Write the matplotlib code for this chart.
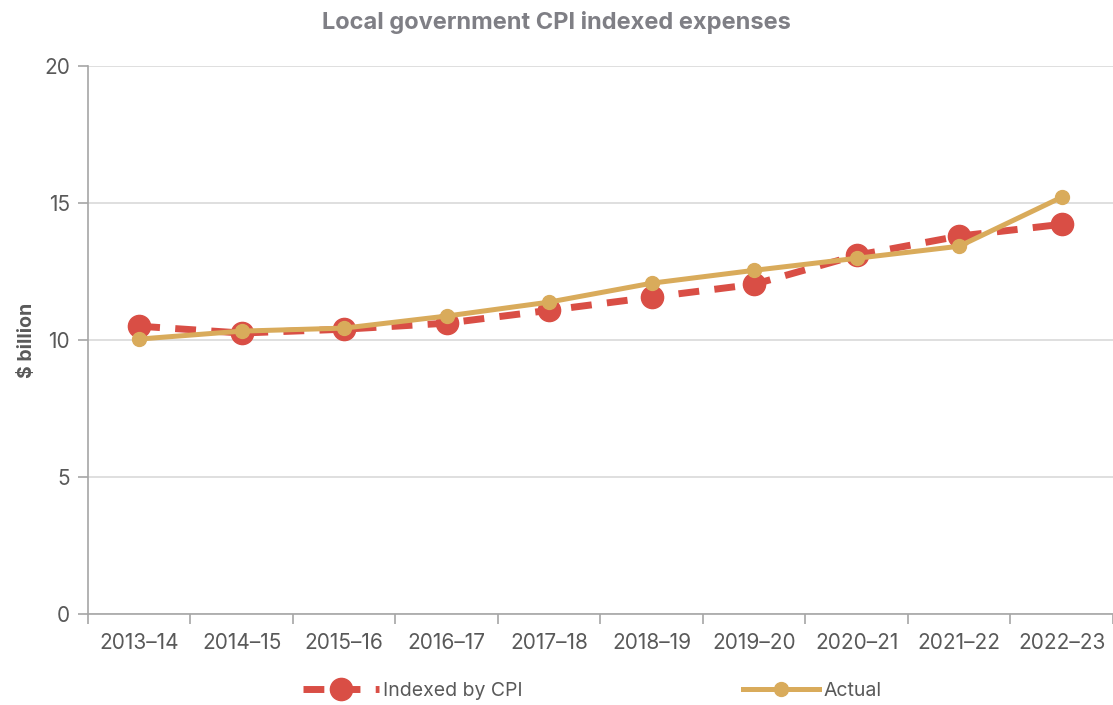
import matplotlib.pyplot as plt

years = ['2013–14', '2014–15', '2015–16', '2016–17', '2017–18',
         '2018–19', '2019–20', '2020–21', '2021–22', '2022–23']
indexed_cpi = [10.51, 10.26, 10.40, 10.62, 11.09, 11.57, 12.04, 13.10, 13.80, 14.23]
actual = [10.04, 10.33, 10.44, 10.88, 11.39, 12.08, 12.55, 12.99, 13.43, 15.22]


def main():
    plt.rcParams['font.family'] = ['Inter', 'DejaVu Sans']
    grey = '#595959'

    fig = plt.figure(figsize=(11.13, 7.05), dpi=100)
    ax = fig.add_axes([0.079, 0.129, 0.921, 0.777])

    x = list(range(len(years)))
    ax.plot(x, indexed_cpi, color='#D94E45', linestyle=(0, (3, 2.2)), linewidth=5,
            marker='o', markersize=16, label='Indexed by CPI', zorder=3)
    ax.plot(x, actual, color='#D9AB5B', linestyle='-', linewidth=3.6,
            marker='o', markersize=10, label='Actual', zorder=4)

    ax.set_xlim(-0.5, len(years) - 0.5)
    ax.set_ylim(0, 20)
    ax.set_yticks([0, 5, 10, 15, 20])
    ax.set_xticks([i - 0.5 for i in range(len(years) + 1)])
    ax.set_xticklabels([])
    ax.set_xticks(x, minor=True)
    ax.set_xticklabels(years, minor=True)
    ax.tick_params(axis='x', which='major', length=7, color='#A6A6A6', width=1.2)
    ax.tick_params(axis='x', which='minor', length=0, pad=14, labelsize=15, labelcolor=grey)
    ax.tick_params(axis='y', length=7, color='#A6A6A6', width=1.2, labelsize=15,
                   labelcolor=grey, pad=6)

    ax.grid(axis='y', color='#D9D9D9', linewidth=1.2)
    ax.set_axisbelow(True)
    for side in ('top', 'right'):
        ax.spines[side].set_visible(False)
    ax.spines['left'].set_color('#A6A6A6')
    ax.spines['bottom'].set_color('#A6A6A6')
    ax.spines['left'].set_linewidth(1.2)
    ax.spines['bottom'].set_linewidth(1.2)

    ax.set_ylabel('$ billion', fontsize=14, fontweight='bold', color=grey, labelpad=6)
    fig.suptitle('Local government CPI indexed expenses', y=0.985, fontsize=17,
                 fontweight='bold', color='#7F7F85')

    fig.legend(loc='lower center', bbox_to_anchor=(0.532, -0.018), ncol=2, frameon=False,
               fontsize=14, labelcolor=grey, columnspacing=11.3, handlelength=3.9,
               handletextpad=0.25)

    fig.savefig('out.png', dpi=100)


main()
